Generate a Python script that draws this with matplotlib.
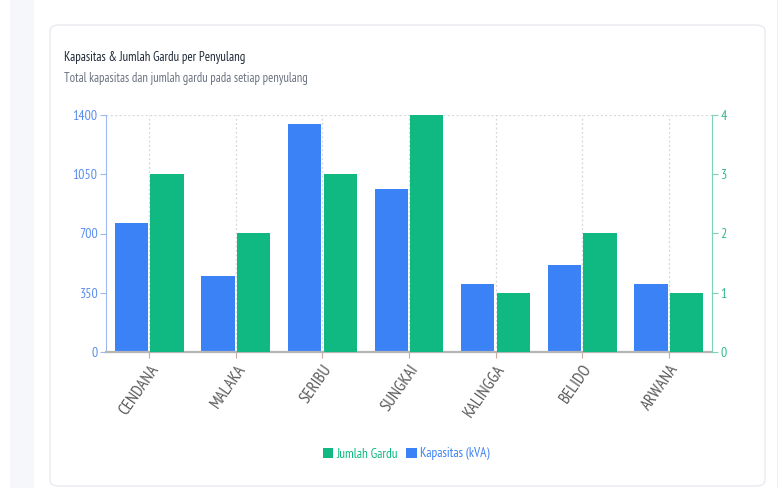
import matplotlib
matplotlib.use("Agg")
import matplotlib.pyplot as plt
import numpy as np
from matplotlib.patches import FancyBboxPatch, Rectangle, Patch

plt.rcParams['font.family'] = ['PT Sans Narrow', 'Archivo Narrow', 'DejaVu Sans']

feeders = ["CENDANA", "MALAKA", "SERIBU", "SUNGKAI", "KALINGGA", "BELIDO", "ARWANA"]
capacity_kva = [760, 450, 1345, 965, 400, 515, 400]
substation_count = [3, 2, 3, 4, 1, 2, 1]
left_ticks = [0, 350, 700, 1050, 1400]
right_ticks = [0, 1, 2, 3, 4]

BLUE = "#3b82f6"
GREEN = "#10b981"
W, H = 780, 488

fig = plt.figure(figsize=(W / 100, H / 100), dpi=100)
fig.patch.set_facecolor("white")

# sidebar strip, right divider and card
fig.patches.append(Rectangle((10 / W, 0), (34 - 10) / W, 1, transform=fig.transFigure,
                             facecolor="#f6f7fa", edgecolor="none", zorder=-3))
fig.patches.append(Rectangle((777 / W, 0), 1.0 / W, 1, transform=fig.transFigure,
                             facecolor="#eceef1", edgecolor="none", zorder=-3))
card = FancyBboxPatch((50 / W, 2 / H), (765 - 50) / W, (463 - 2) / H,
                      boxstyle="round,pad=0,rounding_size=0.012",
                      transform=fig.transFigure, facecolor="white",
                      edgecolor="#e8eaee", linewidth=1.0, zorder=-1)
fig.patches.append(card)

fig.text(64 / W, 1 - 57 / H, "Kapasitas & Jumlah Gardu per Penyulang",
         fontsize=9.2, color="#1f2937", va="center", ha="left")
fig.text(64 / W, 1 - 78 / H, "Total kapasitas dan jumlah gardu pada setiap penyulang",
         fontsize=9, color="#6b7280", va="center", ha="left")

ax = fig.add_axes([106 / W, 1 - 352 / H, (712 - 106) / W, (352 - 115) / H])
ax.set_facecolor("none")
ax2 = ax.twinx()

x = np.arange(len(feeders))
bw = 0.385
ax.bar(x - 0.205, capacity_kva, width=bw, color=BLUE, zorder=3)
ax2.bar(x + 0.205, substation_count, width=bw, color=GREEN, zorder=3)

ax.set_xlim(-0.5, len(feeders) - 0.5)
ax.set_ylim(0, 1400)
ax2.set_ylim(0, 4)
ax.set_yticks(left_ticks)
ax2.set_yticks(right_ticks)

# grid: vertical dotted lines at categories and a dotted top border
for xi in x:
    ax.axvline(xi, color="#d4d6da", linestyle=(0, (1.5, 2)), linewidth=0.9, zorder=1)
ax.axhline(1400, color="#d4d6da", linestyle=(0, (1.5, 2)), linewidth=0.9, zorder=1)

ax.set_xticks(x)
ax.set_xticklabels(feeders, rotation=55, ha="right", va="top",
                   rotation_mode="anchor", fontsize=12, color="#5a5a5a")
ax.tick_params(axis="x", length=4, color="#c9a99a", pad=3)
ax.tick_params(axis="y", length=4, color="#9db8f2", labelcolor="#5b8def", labelsize=10, pad=2)
ax2.tick_params(axis="y", length=4, color="#7ed3b2", labelcolor="#34b98a", labelsize=10, pad=2)

for a in (ax, ax2):
    a.spines["top"].set_visible(False)
ax.spines["right"].set_visible(False)
ax2.spines["left"].set_visible(False)
ax2.spines["bottom"].set_visible(False)
ax.spines["left"].set_color("#9db8f2")
ax2.spines["right"].set_color("#7ed3b2")
ax.spines["bottom"].set_color("#b5b5b5")
ax.spines["bottom"].set_linewidth(1.6)
ax.spines["bottom"].set_zorder(4)

handles = [Patch(facecolor=GREEN, edgecolor="none"), Patch(facecolor=BLUE, edgecolor="none")]
leg = fig.legend(handles, ["Jumlah Gardu", "Kapasitas (kVA)"], loc="center",
                 bbox_to_anchor=(406 / W, 1 - 454 / H), ncol=2, frameon=False,
                 fontsize=9.5, handlelength=0.8, handleheight=0.8,
                 handletextpad=0.25, columnspacing=0.6)
for t, c in zip(leg.get_texts(), [GREEN, BLUE]):
    t.set_color(c)

fig.savefig("out.png", dpi=100)
